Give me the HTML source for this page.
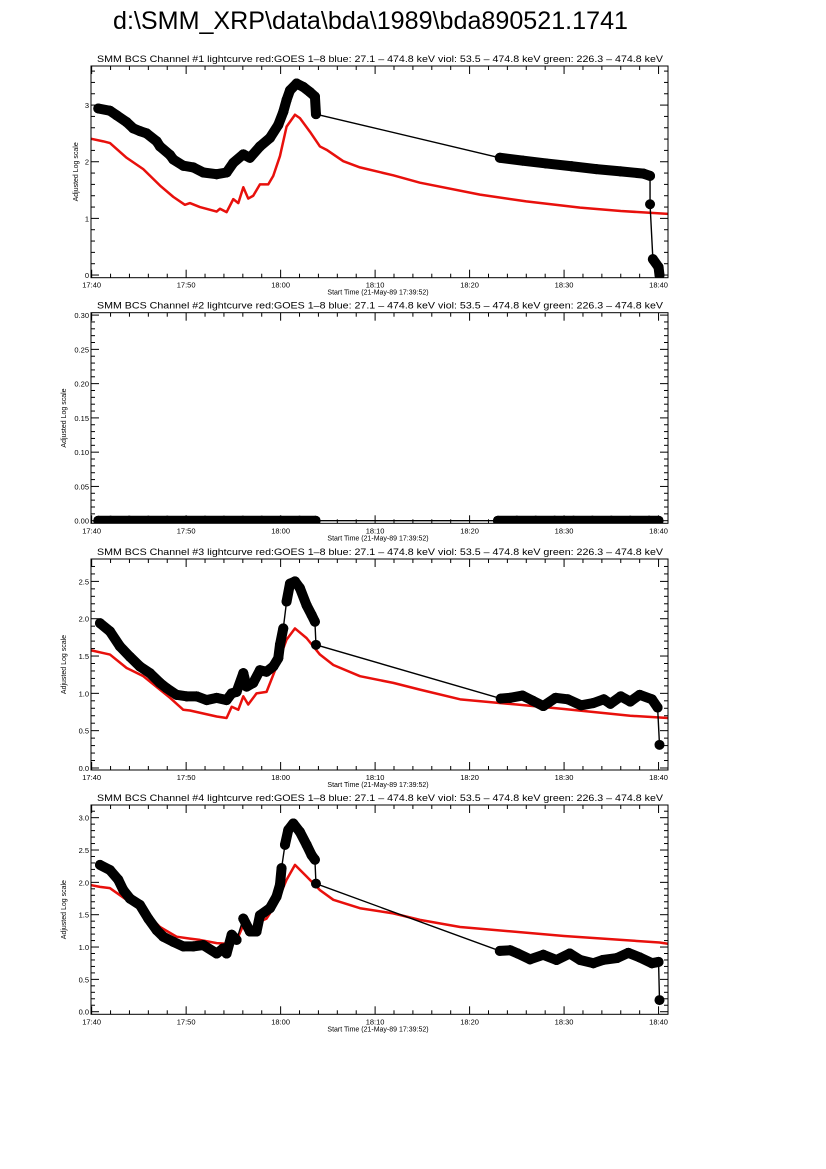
<!DOCTYPE html>
<html><head><meta charset="utf-8"><style>
body{margin:0;background:#fff;}
svg{display:block;font-family:"Liberation Sans",sans-serif;}
</style></head><body>
<svg id="chart" width="826" height="1169" viewBox="0 0 826 1169" xmlns="http://www.w3.org/2000/svg">
<rect width="826" height="1169" fill="#fff"/>
<text x="113" y="29" font-size="25" textLength="515" lengthAdjust="spacingAndGlyphs">d:\SMM_XRP\data\bda\1989\bda890521.1741</text>
</svg>
<script>
// time in minutes after 17:40
const xTickLabels = ["17:40","17:50","18:00","18:10","18:20","18:30","18:40"];
const ch1Times = [0.70,1.94,2.64,3.70,4.40,5.11,5.82,6.88,7.23,8.29,8.64,9.70,10.76,11.82,13.23,14.28,14.99,16.05,16.75,17.81,18.87,19.75,20.28,20.63,20.99,21.69,22.40,23.10,23.63,23.74,43.2,45.6,48.1,50.8,53.4,56.0,58.4,59.1,59.1,59.4,60.0,60.1];
const ch1Values = [2.94,2.90,2.82,2.70,2.59,2.54,2.50,2.36,2.27,2.12,2.04,1.93,1.90,1.81,1.78,1.81,1.98,2.13,2.07,2.27,2.42,2.65,2.88,3.09,3.26,3.38,3.32,3.23,3.15,2.84,2.07,2.02,1.97,1.92,1.87,1.83,1.79,1.75,1.25,0.28,0.14,0];
const goes1Times = [-0.18,1.23,1.94,3.70,5.46,7.23,8.64,9.87,10.40,11.46,13.23,13.58,14.28,14.99,15.52,16.05,16.57,17.10,17.81,18.69,19.22,19.93,20.63,21.52,22.04,23.10,24.16,24.87,26.63,28.40,31.92,34.74,41.1,46,51.7,56,61.0];
const goes1Values = [2.41,2.36,2.33,2.07,1.87,1.58,1.38,1.24,1.27,1.20,1.12,1.17,1.11,1.34,1.27,1.55,1.35,1.40,1.60,1.60,1.75,2.10,2.62,2.83,2.77,2.53,2.27,2.21,2.01,1.90,1.76,1.63,1.42,1.30,1.19,1.13,1.08];
const ch2Times = [0.7,2,4,6,8,10,12,14,16,18,20,22,23.7,43,45,47,49,51,53,55,57,59,60];
const ch2Values = [0,0,0,0,0,0,0,0,0,0,0,0,0,0,0,0,0,0,0,0,0,0,0];
const ch3Times = [0.88,1.94,2.99,4.05,5.11,6.17,7.23,7.93,8.99,10.05,11.11,12.17,13.23,14.28,14.82,15.34,16.05,16.40,17.10,17.81,18.51,19.22,19.75,19.93,20.28,20.63,20.99,21.52,22.04,22.75,23.28,23.63,23.74,43.3,44.3,45.6,46.7,47.8,49.1,50.4,51.8,53.1,54.2,54.9,56.0,57.0,58.0,59.3,59.9,60.1];
const ch3Values = [1.94,1.83,1.63,1.49,1.36,1.27,1.14,1.07,0.98,0.96,0.96,0.91,0.94,0.91,1.00,1.02,1.27,1.09,1.14,1.31,1.29,1.36,1.47,1.65,1.87,2.23,2.47,2.50,2.41,2.18,2.05,1.96,1.65,0.93,0.94,0.97,0.90,0.83,0.94,0.92,0.84,0.87,0.92,0.86,0.96,0.89,0.98,0.92,0.81,0.31];
const goes3Times = [-0.18,1.23,1.94,3.70,5.46,7.23,8.29,9.70,10.40,11.46,13.23,14.28,14.82,15.52,16.05,16.57,17.45,18.51,19.57,20.63,21.52,22.75,24.16,25.58,28.40,31.92,34.74,39.0,45,50,57.0,61.0];
const goes3Values = [1.58,1.54,1.52,1.34,1.23,1.05,0.94,0.78,0.77,0.74,0.69,0.67,0.82,0.78,0.96,0.85,1.00,1.02,1.36,1.72,1.87,1.74,1.52,1.38,1.23,1.14,1.05,0.92,0.85,0.79,0.70,0.67];
const ch4Times = [0.88,1.94,2.82,3.35,4.05,5.11,5.99,6.88,7.58,8.64,9.70,10.76,11.82,13.23,13.93,14.28,14.82,15.34,16.05,16.75,17.45,17.81,18.87,19.57,19.93,20.10,20.46,20.81,21.34,22.04,22.75,23.28,23.63,23.74,43.2,44.3,45.1,46.4,47.8,49.2,50.6,51.7,53.1,54.1,55.6,56.8,58.0,59.3,60.0,60.1];
const ch4Values = [2.27,2.19,2.04,1.88,1.75,1.65,1.44,1.26,1.16,1.08,1.01,1.01,1.03,0.90,0.98,0.90,1.19,1.11,1.44,1.24,1.24,1.49,1.60,1.78,1.96,2.22,2.58,2.81,2.91,2.78,2.58,2.42,2.35,1.98,0.94,0.95,0.90,0.81,0.88,0.80,0.90,0.80,0.75,0.80,0.83,0.91,0.84,0.75,0.77,0.18];
const goes4Times = [-0.18,0.88,1.94,3.70,5.46,7.23,8.99,10.40,11.46,13.23,14.28,14.82,15.52,16.05,16.57,17.45,18.51,19.57,20.63,21.52,22.75,24.16,25.58,28.40,31.92,34.74,39.0,50.0,60.1,61.0];
const goes4Values = [1.96,1.93,1.91,1.73,1.57,1.31,1.16,1.13,1.11,1.06,1.05,1.21,1.16,1.34,1.21,1.37,1.44,1.68,2.04,2.27,2.09,1.88,1.73,1.60,1.52,1.42,1.31,1.17,1.07,1.05];
const ch1YTicks = ["0","1","2","3"];
const ch2YTicks = ["0.00","0.05","0.10","0.15","0.20","0.25","0.30"];
const ch34YTicks = ["0.0","0.5","1.0","1.5","2.0","2.5","3.0"];

const NS = "http://www.w3.org/2000/svg";
const svg = document.getElementById("chart");
function mk(tag, attrs, parent){
  const e = document.createElementNS(NS, tag);
  for (const k in attrs) e.setAttribute(k, attrs[k]);
  (parent||svg).appendChild(e);
  return e;
}
const panels = [
  {n:1, top:66, bottom:277.7, ymin:-0.047, ymax:3.69, major:1, minor:0.2, labels:ch1YTicks, bt:ch1Times, bv:ch1Values, rt:goes1Times, rv:goes1Values},
  {n:2, top:312.7, bottom:523.3, ymin:-0.0038, ymax:0.3035, major:0.05, minor:0.01, labels:ch2YTicks, bt:ch2Times, bv:ch2Values, rt:null, rv:null},
  {n:3, top:559, bottom:770, ymin:-0.027, ymax:2.8, major:0.5, minor:0.1, labels:ch34YTicks.slice(0,6), bt:ch3Times, bv:ch3Values, rt:goes3Times, rv:goes3Values},
  {n:4, top:805, bottom:1014.3, ymin:-0.04, ymax:3.196, major:0.5, minor:0.1, labels:ch34YTicks, bt:ch4Times, bv:ch4Values, rt:goes4Times, rv:goes4Values}
];
const L = 91, R = 668, xmin = -0.07, xmax = 61.0;
const xs = t => L + (t - xmin) / (xmax - xmin) * (R - L);

panels.forEach(p => {
  const ys = v => p.bottom - (v - p.ymin) / (p.ymax - p.ymin) * (p.bottom - p.top);
  const g = mk("g", {});
  
  
  const title = mk("text", {x:97, y:p.top-4, "font-size":9.5, textLength:566, lengthAdjust:"spacingAndGlyphs", "xml:space":"preserve"}, g);
  title.textContent = "SMM BCS Channel #" + p.n + " lightcurve  red:GOES 1\u20138  blue: 27.1 \u2013 474.8 keV  viol: 53.5 \u2013 474.8 keV  green: 226.3 \u2013 474.8 keV";
  
  
  const clipId = "clip" + p.n;
  const cp = mk("clipPath", {id:clipId}, g);
  mk("rect", {x:L, y:p.top, width:R-L, height:p.bottom-p.top}, cp);
  for (let m = 0; m <= 60; m += 2) {
    const x = xs(m), len = (m % 10 === 0) ? 8 : 4;
    mk("line", {x1:x, x2:x, y1:p.bottom, y2:p.bottom-len, stroke:"#000", "stroke-width":1}, g);
    mk("line", {x1:x, x2:x, y1:p.top, y2:p.top+len, stroke:"#000", "stroke-width":1}, g);
  }
  xTickLabels.forEach((lab, i) => {
    const t = mk("text", {x:xs(i*10), y:p.bottom+10, "font-size":7.5, "text-anchor":"middle"}, g);
    t.textContent = lab;
    
    
  });
  const xl = mk("text", {x:378, y:p.bottom+17, "font-size":7, "text-anchor":"middle"}, g);
  xl.textContent = "Start Time (21-May-89 17:39:52)";
  
  
  const nMinor = Math.floor((p.ymax) / p.minor + 1e-6);
  for (let k = 0; k <= nMinor; k++) {
    const v = k * p.minor, y = ys(v);
    const isMajor = Math.abs(v / p.major - Math.round(v / p.major)) < 1e-6;
    const len = isMajor ? 8 : 4;
    mk("line", {x1:L, x2:L+len, y1:y, y2:y, stroke:"#000", "stroke-width":1}, g);
    mk("line", {x1:R, x2:R-len, y1:y, y2:y, stroke:"#000", "stroke-width":1}, g);
  }
  p.labels.forEach((lab, i) => {
    const t = mk("text", {x:L-2, y:ys(i*p.major)+3, "font-size":7.5, "text-anchor":"end"}, g);
    t.textContent = lab;
    
    
  });
  const cy = (p.top + p.bottom) / 2;
  const ylx = p.n === 1 ? 78 : 66;
  const yl = mk("text", {x:ylx, y:cy, "font-size":7, "text-anchor":"middle", transform:"rotate(-90 " + ylx + " " + cy + ")"}, g);
  yl.textContent = "Adjusted Log scale";
  
  
  const data = mk("g", {"clip-path":"url(#" + clipId + ")"}, g);
  if (p.rt) {
    const red = mk("polyline", {points:p.rt.map((t,i)=>xs(t)+","+ys(p.rv[i])).join(" "), fill:"none", stroke:"#e8100c", "stroke-width":2.5, "stroke-linejoin":"round"}, data);
    
    
  }
  const blk = mk("polyline", {points:p.bt.map((t,i)=>xs(t)+","+ys(p.bv[i])).join(" "), fill:"none", stroke:"#000", "stroke-width":1.4}, data);
  
  
  for (let i = 1; i < p.bt.length; i++) {
    const dt = p.bt[i] - p.bt[i-1], dv = Math.abs(p.bv[i] - p.bv[i-1]) / (p.ymax - p.ymin);
    if (dt < 3 && dv < 0.1) {
      mk("line", {x1:xs(p.bt[i-1]), y1:ys(p.bv[i-1]), x2:xs(p.bt[i]), y2:ys(p.bv[i]), stroke:"#000", "stroke-width":10, "stroke-linecap":"round"}, data);
    }
  }
  p.bt.forEach((t, i) => {
    const c = mk("circle", {cx:xs(t), cy:ys(p.bv[i]), r:5, fill:"#000"}, data);
    
    
  });
  const fr = mk("rect", {x:L, y:p.top, width:R-L, height:p.bottom-p.top, fill:"none", stroke:"#000", "stroke-width":1}, g);
  
  
});
</script>
</body></html>
